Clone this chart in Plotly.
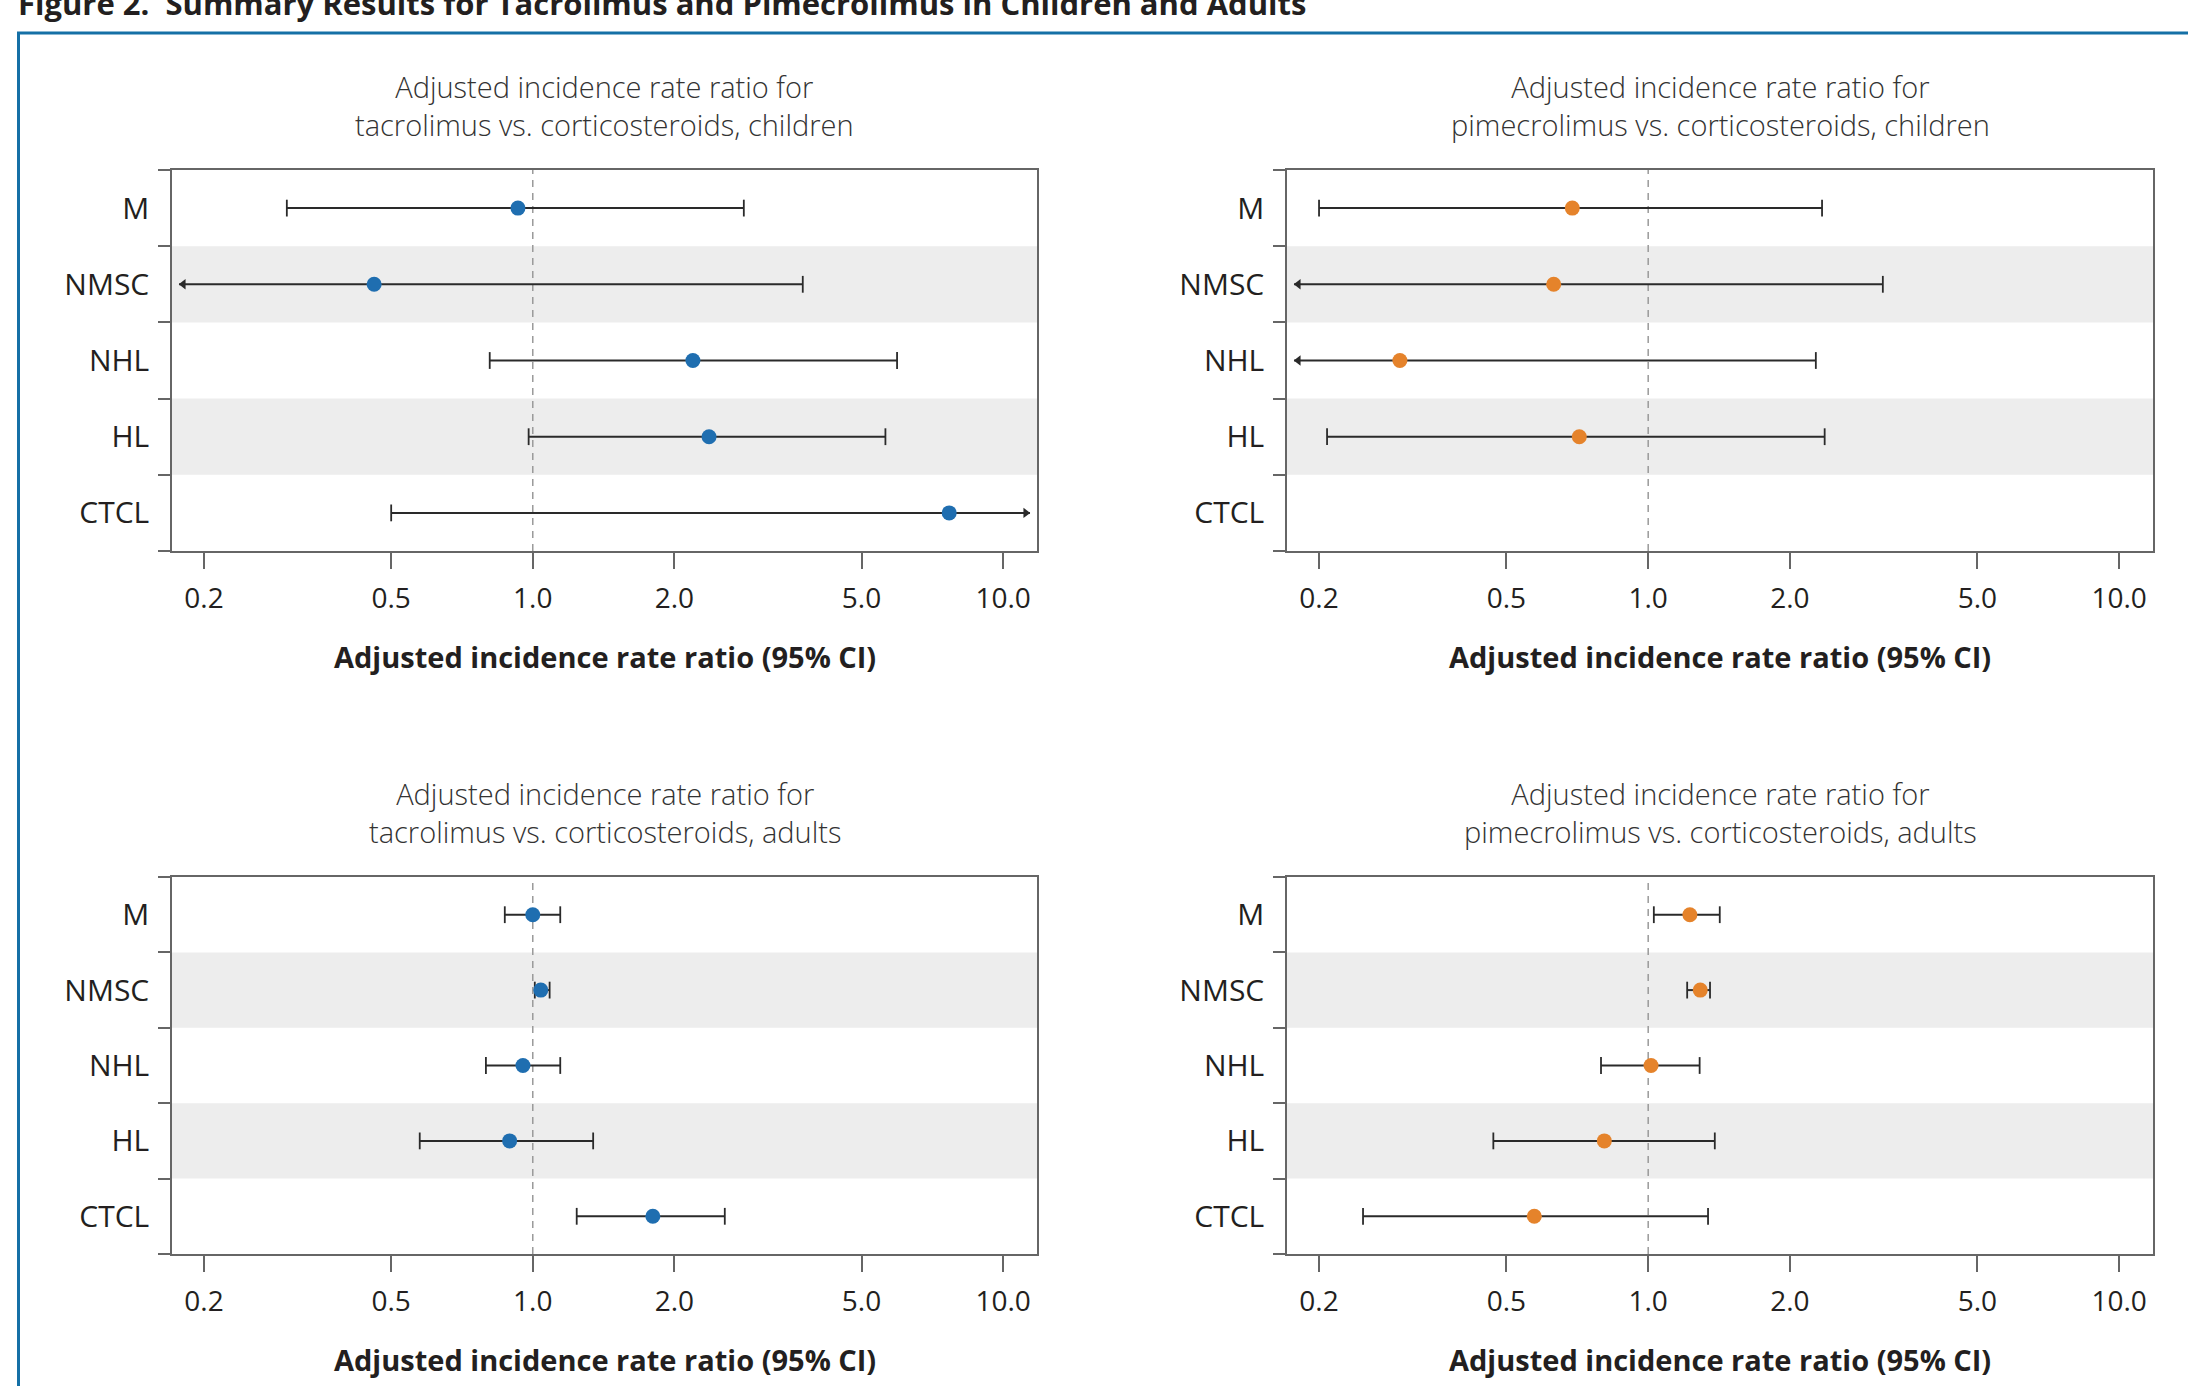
import plotly.graph_objects as go

W, H = 2188, 1386

# ---------------- data ----------------
categories = ["M", "NMSC", "NHL", "HL", "CTCL"]
tick_values = [0.2, 0.5, 1.0, 2.0, 5.0, 10.0]
tick_labels = ["0.2", "0.5", "1.0", "2.0", "5.0", "10.0"]

tac_children_est = [0.93, 0.46, 2.19, 2.37, 7.68]
tac_children_lo = [0.30, 0.12, 0.81, 0.98, 0.50]
tac_children_hi = [2.81, 3.75, 5.95, 5.62, 16.0]

pime_children_est = [0.69, 0.63, 0.297, 0.714, None]
pime_children_lo = [0.20, 0.12, 0.12, 0.208, None]
pime_children_hi = [2.34, 3.15, 2.27, 2.37, None]

tac_adults_est = [1.00, 1.04, 0.953, 0.893, 1.80]
tac_adults_lo = [0.872, 1.01, 0.795, 0.575, 1.24]
tac_adults_hi = [1.144, 1.086, 1.144, 1.344, 2.56]

pime_adults_est = [1.226, 1.29, 1.014, 0.807, 0.573]
pime_adults_lo = [1.028, 1.21, 0.794, 0.469, 0.248]
pime_adults_hi = [1.419, 1.353, 1.286, 1.385, 1.34]

title_line1 = "Adjusted incidence rate ratio for"
title_line2 = [
    "tacrolimus vs. corticosteroids, children",
    "pimecrolimus vs. corticosteroids, children",
    "tacrolimus vs. corticosteroids, adults",
    "pimecrolimus vs. corticosteroids, adults",
]
x_title = "<b>Adjusted incidence rate ratio (95% CI)</b>"
fig_title = "<b>Figure 2.  Summary Results for Tacrolimus and Pimecrolimus in Children and Adults</b>"

BLUE = "#1f6eb0"
ORANGE = "#e5832b"

panels = [
    (tac_children_est, tac_children_lo, tac_children_hi, BLUE),
    (pime_children_est, pime_children_lo, pime_children_hi, ORANGE),
    (tac_adults_est, tac_adults_lo, tac_adults_hi, BLUE),
    (pime_adults_est, pime_adults_lo, pime_adults_hi, ORANGE),
]

# ---------------- layout geometry (pixels) ----------------
col_px = [(172, 1037), (1287, 2153)]
row_px = [(170, 551), (877, 1254)]
XR = [-0.767, 1.072]  # log10 range
FONT = "'Open Sans', Lato, sans-serif"
LINE_C = "#666666"
TXT_C = "#231f20"

fig = go.Figure()
layout = dict(
    width=W, height=H, autosize=False,
    margin=dict(l=0, r=0, t=0, b=0),
    paper_bgcolor="white", plot_bgcolor="white",
    showlegend=False, font=dict(family=FONT, color=TXT_C),
    shapes=[], annotations=[],
)

ypos = {c: len(categories) - i for i, c in enumerate(categories)}

for k, (est, lo, hi, color) in enumerate(panels):
    r, c = divmod(k, 2)
    x0p, x1p = col_px[c]
    y0p, y1p = row_px[r]
    sfx = "" if k == 0 else str(k + 1)
    xa, ya = "x" + sfx, "y" + sfx
    layout["xaxis" + sfx] = dict(
        type="log", range=XR, domain=[x0p / W, x1p / W], anchor=ya,
        tickvals=tick_values, ticktext=tick_labels, ticks="outside",
        ticklen=16, tickwidth=1.5, tickcolor=LINE_C,
        showline=True, linecolor=LINE_C, linewidth=1.5, mirror=True,
        showgrid=False, zeroline=False, ticklabelstandoff=6,
        tickfont=dict(size=28, color=TXT_C, family=FONT),
    )
    layout["yaxis" + sfx] = dict(
        range=[0.5, len(categories) + 0.5], domain=[1 - y1p / H, 1 - y0p / H],
        anchor=xa, tickvals=[ypos[cat] for cat in categories], ticktext=categories,
        ticks="", showline=True, linecolor=LINE_C, linewidth=1.5, mirror=True,
        showgrid=False, zeroline=False, ticklabelstandoff=15,
        tickfont=dict(size=30, color=TXT_C, family=FONT),
        minor=dict(tick0=0.5, dtick=1, ticks="outside", ticklen=12,
                   tickwidth=1.5, tickcolor=LINE_C, showgrid=False),
    )
    for i, cat in enumerate(categories):
        if i % 2 == 1:
            layout["shapes"].append(dict(
                type="rect", xref=xa + " domain", yref=ya, x0=0, x1=1,
                y0=ypos[cat] - 0.5, y1=ypos[cat] + 0.5,
                fillcolor="#ededed", line=dict(width=0), layer="below"))
    fig.add_trace(go.Scatter(x=[1, 1], y=[0.5, len(categories) + 0.5], mode="lines",
                             line=dict(color="#9a9a9a", width=1.5, dash="7px,6px"),
                             xaxis=xa, yaxis=ya, hoverinfo="skip"))
    lo_lim = 10 ** (XR[0] + 0.015)
    hi_lim = 10 ** (XR[1] - 0.015)
    seg_x, seg_y, cap_x, cap_y = [], [], [], []
    arl_x, arl_y, arr_x, arr_y = [], [], [], []
    for i, cat in enumerate(categories):
        if est[i] is None:
            continue
        y = ypos[cat]
        a = max(lo[i], lo_lim)
        b = min(hi[i], hi_lim)
        seg_x += [a, b, None]
        seg_y += [y, y, None]
        if lo[i] < lo_lim:
            arl_x.append(10 ** (XR[0] + 0.024)); arl_y.append(y)
        else:
            cap_x.append(lo[i]); cap_y.append(y)
        if hi[i] > hi_lim:
            arr_x.append(10 ** (XR[1] - 0.024)); arr_y.append(y)
        else:
            cap_x.append(hi[i]); cap_y.append(y)
    fig.add_trace(go.Scatter(x=seg_x, y=seg_y, mode="lines",
                             line=dict(color="#2a2a2a", width=2), xaxis=xa, yaxis=ya))
    fig.add_trace(go.Scatter(x=cap_x, y=cap_y, mode="markers",
                             marker=dict(symbol="line-ns", size=12,
                                         line=dict(color="#2a2a2a", width=1.8)),
                             xaxis=xa, yaxis=ya))
    if arl_x:
        fig.add_trace(go.Scatter(x=arl_x, y=arl_y, mode="markers",
                                 marker=dict(symbol="triangle-left", size=9, color="#2a2a2a"),
                                 xaxis=xa, yaxis=ya))
    if arr_x:
        fig.add_trace(go.Scatter(x=arr_x, y=arr_y, mode="markers",
                                 marker=dict(symbol="triangle-right", size=9, color="#2a2a2a"),
                                 xaxis=xa, yaxis=ya))
    px_ = [e for e in est if e is not None]
    py_ = [ypos[cat] for cat, e in zip(categories, est) if e is not None]
    fig.add_trace(go.Scatter(x=px_, y=py_, mode="markers",
                             marker=dict(symbol="circle", size=15, color=color,
                                         line=dict(width=0)),
                             xaxis=xa, yaxis=ya))
    cx = (x0p + x1p) / 2 / W
    layout["annotations"].append(dict(
        text=title_line1 + "<br>" + title_line2[k], xref="paper", yref="paper",
        x=cx, y=1 - (y0p - 64.5) / H,
        xanchor="center", yanchor="middle", showarrow=False,
        font=dict(size=29, color="#333333", family=FONT, weight=300)))
    layout["annotations"].append(dict(
        text=x_title, xref="paper", yref="paper", x=cx, y=1 - (y1p + 105) / H,
        xanchor="center", yanchor="middle", showarrow=False,
        font=dict(size=29, color=TXT_C, family=FONT)))

layout["annotations"].append(dict(
    text=fig_title, xref="paper", yref="paper", x=16 / W, y=1 - 26 / H,
    xanchor="left", yanchor="bottom", showarrow=False,
    font=dict(size=31, color=TXT_C, family=FONT)))
layout["shapes"].append(dict(
    type="rect", xref="paper", yref="paper", x0=18.5 / W, x1=1.02,
    y0=-0.02, y1=1 - 33 / H, line=dict(color="#1570a6", width=3),
    fillcolor="rgba(0,0,0,0)", layer="above"))

fig.update_layout(**layout)
fig.write_html("out.html", config={"displayModeBar": False},
               post_script="document.body.style.margin='0';document.body.style.overflow='hidden';")
